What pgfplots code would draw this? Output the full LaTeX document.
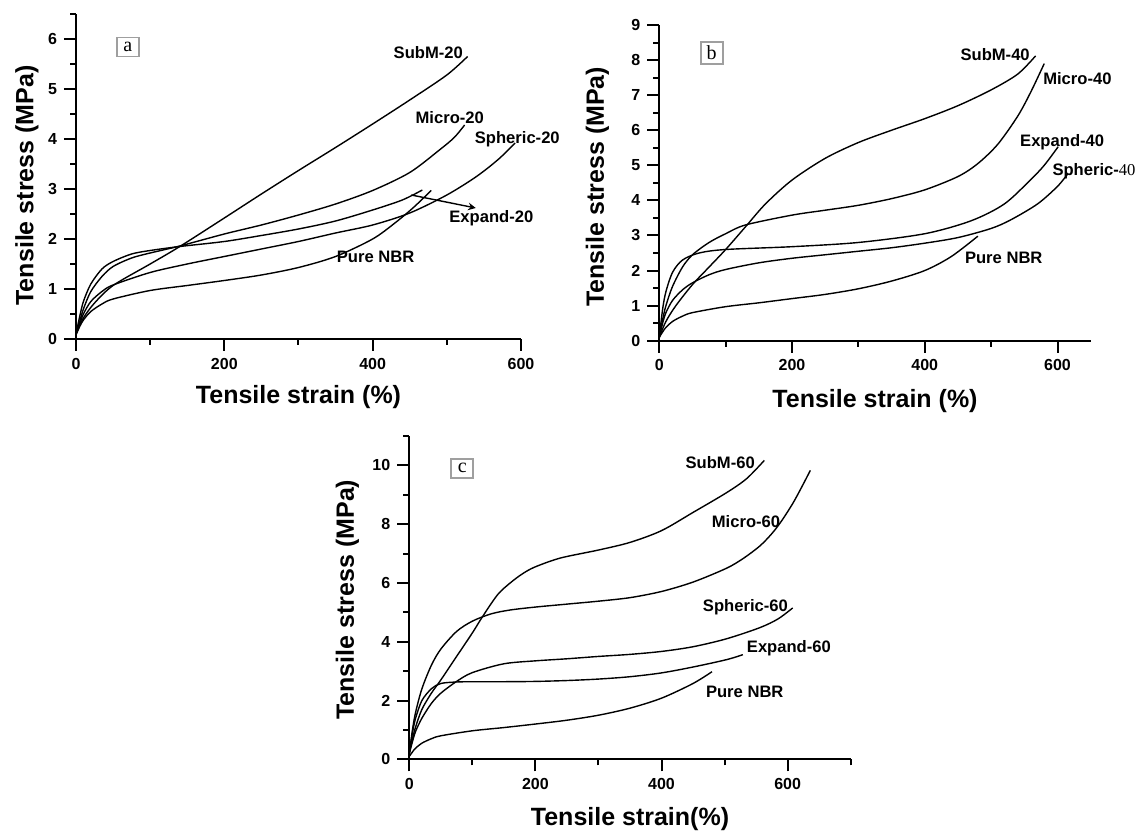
\documentclass[border=0pt]{standalone}
\usepackage{pgfplots}
\pgfplotsset{compat=1.18}
\usepackage{fontspec}
\setmainfont{Liberation Sans}
\newfontfamily\seriffont{Liberation Serif}
\tikzset{
  lab/.style={font=\fontsize{8.3}{9}\selectfont\bfseries, inner sep=0pt},
  box/.style={draw=gray!75, line width=0.8pt, font=\seriffont\fontsize{10}{10}\selectfont, inner sep=2pt, minimum width=11pt, minimum height=9.5pt},
}
\pgfplotsset{
  panel/.style={
    scale only axis, clip=false,
    axis x line=bottom, axis y line=left,
    axis line style={-, line width=1pt},
    every tick/.style={line width=1pt, black},
    tick align=outside,
    major tick length=6pt, minor tick length=3pt,
    xmin=0, ymin=0,
    tick label style={font=\fontsize{8}{9}\selectfont\bfseries},
    /pgf/number format/assume math mode=true,
    xlabel style={font=\fontsize{12.5}{14}\selectfont\bfseries, at={(axis description cs:0.5,0)}, anchor=center, yshift=-29pt},
    ylabel style={font=\fontsize{12.5}{14}\selectfont\bfseries, at={(axis description cs:0,0.5)}, anchor=center},
    every axis plot post/.append style={black, line width=0.7pt, smooth, mark=none},
  },
}
\begin{document}
\begin{tikzpicture}
\path[use as bounding box] (0pt,0pt) rectangle (572pt,415pt);
% ---------------- panel a ----------------
\begin{axis}[panel, at={(38pt,245.5pt)}, anchor=south west,
  width=222.5pt, height=162.5pt, xmax=600, ymax=6.5,
  xtick={0,200,400,600}, minor xtick={100,300,500},
  ytick={0,1,2,3,4,5,6}, minor ytick={0.5,1.5,2.5,3.5,4.5,5.5,6.5},
  xlabel={Tensile strain (\%)}, ylabel={Tensile stress (MPa)},
  ylabel style={yshift=24.5pt, xshift=-4.5pt}]
% SubM-20
\addplot coordinates {(0,0.1)(10,0.42)(25,0.72)(50,1.07)(100,1.5)(140,1.85)(200,2.42)(250,2.9)(300,3.37)(350,3.83)(400,4.3)(450,4.78)(500,5.28)(528,5.65)};
% Micro-20
\addplot coordinates {(0,0.1)(5,0.35)(10,0.6)(20,0.95)(35,1.25)(50,1.45)(75,1.62)(100,1.72)(140,1.86)(200,2.1)(250,2.28)(300,2.48)(350,2.7)(400,2.97)(450,3.33)(490,3.78)(510,4.03)(524,4.28)};
% Expand-20
\addplot coordinates {(0,0.1)(5,0.45)(10,0.75)(20,1.1)(35,1.4)(50,1.55)(75,1.7)(100,1.77)(140,1.85)(200,1.95)(250,2.07)(300,2.2)(350,2.36)(400,2.58)(440,2.78)(467,2.98)};
% Spheric-20
\addplot coordinates {(0,0.1)(5,0.3)(10,0.5)(20,0.75)(35,0.95)(50,1.08)(100,1.33)(150,1.5)(200,1.65)(250,1.8)(300,1.95)(350,2.12)(400,2.28)(450,2.52)(500,2.88)(540,3.25)(570,3.6)(592,3.92)};
% Pure NBR
\addplot coordinates {(0,0.08)(5,0.25)(10,0.38)(20,0.55)(35,0.7)(50,0.8)(100,0.97)(150,1.07)(200,1.17)(250,1.28)(300,1.43)(350,1.65)(400,2.0)(430,2.32)(455,2.63)(479,2.97)};
\draw[-stealth, line width=0.7pt] (axis cs:452,2.88) -- (axis cs:539,2.62);
\node[lab] at (axis cs:475,5.73) {SubM-20};
\node[lab] at (axis cs:504,4.42) {Micro-20};
\node[lab] at (axis cs:595,4.0) {Spheric-20};
\node[lab] at (axis cs:560,2.42) {Expand-20};
\node[lab] at (axis cs:404,1.65) {Pure NBR};
\node[box] at (axis cs:70,5.84) {a};
\end{axis}
% ---------------- panel b ----------------
\begin{axis}[panel, at={(329.65pt,244.65pt)}, anchor=south west,
  width=215.7pt, height=157.85pt, xmax=650, ymax=9,
  xtick={0,200,400,600}, minor xtick={100,300,500},
  ytick={0,1,...,9}, minor ytick={0.5,1.5,2.5,3.5,4.5,5.5,6.5,7.5,8.5},
  xlabel={Tensile strain (\%)}, ylabel={Tensile stress (MPa)},
  xlabel style={yshift=-1pt},
  ylabel style={yshift=31pt, xshift=-2pt}]
% SubM-40
\addplot coordinates {(0,0.1)(10,0.55)(25,1.0)(50,1.6)(75,2.1)(100,2.6)(130,3.25)(160,3.9)(200,4.58)(250,5.2)(300,5.65)(350,6.0)(400,6.33)(450,6.7)(500,7.15)(540,7.6)(567,8.12)};
% Micro-40
\addplot coordinates {(0,0.1)(5,0.6)(10,1.0)(20,1.55)(35,2.1)(50,2.45)(75,2.8)(100,3.05)(130,3.3)(200,3.58)(250,3.72)(300,3.86)(350,4.05)(400,4.3)(450,4.68)(480,5.05)(510,5.6)(540,6.4)(560,7.1)(580,7.9)};
% Expand-40
\addplot coordinates {(0,0.1)(5,0.9)(10,1.4)(20,1.95)(35,2.3)(60,2.5)(100,2.6)(200,2.68)(300,2.8)(400,3.05)(470,3.42)(520,3.9)(560,4.6)(580,5.0)(601,5.53)};
% Spheric-40
\addplot coordinates {(0,0.1)(5,0.5)(10,0.8)(20,1.15)(35,1.45)(50,1.65)(75,1.88)(100,2.03)(150,2.22)(200,2.35)(250,2.45)(300,2.55)(350,2.65)(400,2.78)(450,2.94)(500,3.2)(530,3.45)(570,3.9)(600,4.4)(616,4.77)};
% Pure NBR
\addplot coordinates {(0,0.1)(5,0.25)(10,0.38)(20,0.55)(35,0.7)(50,0.8)(100,0.97)(150,1.08)(200,1.2)(250,1.32)(300,1.48)(350,1.7)(400,2.0)(440,2.4)(480,2.98)};
\node[lab] at (axis cs:506,8.15) {SubM-40};
\node[lab] at (axis cs:630,7.48) {Micro-40};
\node[lab] at (axis cs:607,5.67) {Expand-40};
\node[lab] at (axis cs:655,4.82) {Spheric-{\seriffont\mdseries 40}};
\node[lab] at (axis cs:519,2.35) {Pure NBR};
\node[box] at (axis cs:79,8.2) {b};
\end{axis}
% ---------------- panel c ----------------
\begin{axis}[panel, at={(204.65pt,35.35pt)}, anchor=south west,
  width=220.7pt, height=161.65pt, xmax=700, ymax=11,
  xtick={0,200,400,600}, minor xtick={100,300,500,700},
  ytick={0,2,4,6,8,10}, minor ytick={1,3,5,7,9,11},
  xlabel={Tensile strain(\%)}, ylabel={Tensile stress (MPa)},
  xlabel style={yshift=-1pt},
  ylabel style={yshift=31pt, xshift=-1pt}]
% SubM-60
\addplot coordinates {(0,0.2)(5,0.7)(10,1.1)(20,1.7)(35,2.25)(50,2.7)(75,3.5)(100,4.3)(116,4.85)(140,5.6)(160,6.0)(180,6.32)(200,6.55)(240,6.85)(300,7.12)(350,7.38)(400,7.78)(450,8.4)(503,9.07)(535,9.55)(563,10.17)};
% Micro-60
\addplot coordinates {(0,0.2)(5,1.0)(10,1.6)(20,2.4)(35,3.2)(50,3.75)(75,4.35)(100,4.7)(130,4.95)(160,5.08)(200,5.18)(250,5.28)(300,5.38)(350,5.5)(400,5.71)(450,6.03)(503,6.5)(530,6.84)(556,7.26)(575,7.68)(590,8.1)(608,8.7)(622,9.25)(636,9.83)};
% Spheric-60
\addplot coordinates {(0,0.2)(5,0.6)(10,0.95)(20,1.4)(35,1.9)(50,2.25)(75,2.65)(100,2.95)(150,3.25)(200,3.35)(250,3.42)(300,3.5)(350,3.57)(400,3.67)(450,3.83)(503,4.1)(556,4.48)(585,4.78)(608,5.15)};
% Expand-60
\addplot coordinates {(0,0.2)(5,0.9)(10,1.4)(20,2.0)(35,2.4)(50,2.58)(75,2.63)(100,2.64)(150,2.64)(200,2.65)(250,2.68)(300,2.73)(350,2.81)(400,2.94)(450,3.14)(503,3.39)(529,3.56)};
% Pure NBR
\addplot coordinates {(0,0.1)(5,0.25)(10,0.38)(20,0.55)(35,0.7)(50,0.8)(100,0.97)(150,1.08)(200,1.2)(250,1.33)(300,1.5)(350,1.74)(400,2.08)(450,2.58)(480,2.98)};
\node[lab] at (axis cs:493,10.09) {SubM-60};
\node[lab] at (axis cs:534,8.1) {Micro-60};
\node[lab] at (axis cs:533,5.18) {Spheric-60};
\node[lab] at (axis cs:602,3.78) {Expand-60};
\node[lab] at (axis cs:532,2.3) {Pure NBR};
\node[box] at (axis cs:84,9.9) {c};
\end{axis}
\end{tikzpicture}
\end{document}
